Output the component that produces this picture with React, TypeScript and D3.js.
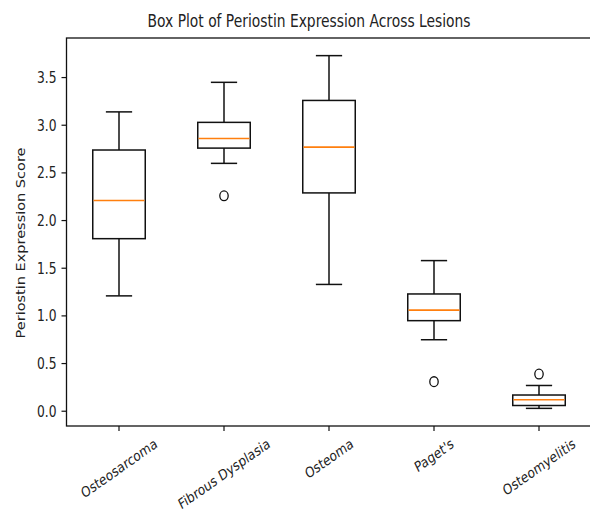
import React, { useRef, useEffect } from "react";
import * as d3 from "d3";

// box plot summary values
const categories = ["Osteosarcoma", "Fibrous Dysplasia", "Osteoma", "Paget's", "Osteomyelitis"];
const whiskerLow = [1.21, 2.6, 1.33, 0.75, 0.03];
const q1 = [1.81, 2.76, 2.29, 0.95, 0.06];
const medians = [2.21, 2.86, 2.77, 1.06, 0.12];
const q3 = [2.74, 3.03, 3.26, 1.23, 0.17];
const whiskerHigh = [3.14, 3.45, 3.73, 1.58, 0.27];
const outliers = [[], [2.26], [], [0.31], [0.39]];
const yTicks = [0, 0.5, 1.0, 1.5, 2.0, 2.5, 3.0, 3.5];

const title = "Box Plot of Periostin Expression Across Lesions";
const yLabel = "Periostin Expression Score";

const width = 590;
const height = 514;
const FONT = "'DejaVu Sans', sans-serif";
const SX = 0.82; // the reference text is squeezed sideways

const App = () => {
  const svgRef = useRef<SVGSVGElement>(null);

  useEffect(() => {
    const svg = d3.select(svgRef.current);
    svg.selectAll("*").remove();

    const left = 66.5, right = 591.5, top = 38, bottom = 426;

    // --- Scales ---
    const x = d3.scaleLinear().domain([0.5, categories.length + 0.5]).range([left, right]);
    const all = [...whiskerLow, ...whiskerHigh, ...outliers.flat()];
    const lo = d3.min(all) as number;
    const hi = d3.max(all) as number;
    const pad = (hi - lo) * 0.05;
    const y = d3.scaleLinear().domain([lo - pad, hi + pad]).range([bottom, top]);

    // --- Boxes ---
    const g = svg.append("g").attr("stroke", "#111").attr("stroke-width", 1.5).attr("fill", "none");
    categories.forEach((c, i) => {
      const cx = x(i + 1);
      const hw = x(i + 1.25) - cx;
      const cw = x(i + 1.125) - cx;
      g.append("rect")
        .attr("x", cx - hw)
        .attr("y", y(q3[i]))
        .attr("width", hw * 2)
        .attr("height", y(q1[i]) - y(q3[i]));
      // whiskers + caps
      g.append("line").attr("x1", cx).attr("x2", cx).attr("y1", y(q1[i])).attr("y2", y(whiskerLow[i]));
      g.append("line").attr("x1", cx).attr("x2", cx).attr("y1", y(q3[i])).attr("y2", y(whiskerHigh[i]));
      g.append("line").attr("x1", cx - cw).attr("x2", cx + cw).attr("y1", y(whiskerLow[i])).attr("y2", y(whiskerLow[i]));
      g.append("line").attr("x1", cx - cw).attr("x2", cx + cw).attr("y1", y(whiskerHigh[i])).attr("y2", y(whiskerHigh[i]));
      g.append("line")
        .attr("x1", cx - hw + 0.75).attr("x2", cx + hw - 0.75)
        .attr("y1", y(medians[i])).attr("y2", y(medians[i]))
        .attr("stroke", "#ff7f0e")
        .attr("stroke-width", 1.6);
      outliers[i].forEach((v) => {
        g.append("ellipse")
          .attr("cx", cx).attr("cy", y(v))
          .attr("rx", 4.2).attr("ry", 4.9)
          .attr("stroke-width", 1.3);
      });
    });

    // --- Frame ---
    svg.append("rect")
      .attr("x", left).attr("y", top)
      .attr("width", right - left).attr("height", bottom - top)
      .attr("fill", "none").attr("stroke", "#111").attr("stroke-width", 1.3);

    // --- Y axis ---
    const ya = svg.append("g").style("font-family", FONT).style("font-size", "15px");
    yTicks.forEach((t) => {
      ya.append("line").attr("x1", left - 5).attr("x2", left).attr("y1", y(t)).attr("y2", y(t)).attr("stroke", "#111").attr("stroke-width", 1.2);
      ya.append("text")
        .attr("transform", `translate(${left - 10},${y(t)}) scale(${SX},1)`)
        .attr("text-anchor", "end")
        .attr("dy", "0.36em")
        .attr("fill", "#222")
        .text(t.toFixed(1));
    });

    // --- X axis ---
    const xa = svg.append("g").style("font-family", FONT).style("font-size", "14.5px");
    categories.forEach((c, i) => {
      const cx = x(i + 1);
      xa.append("line").attr("x1", cx).attr("x2", cx).attr("y1", bottom).attr("y2", bottom + 5).attr("stroke", "#111").attr("stroke-width", 1.2);
      const t = xa.append("text")
        .attr("text-anchor", "middle")
        .attr("dy", "0.36em")
        .attr("fill", "#222")
        .text(c);
      const len = (t.node() as SVGTextElement).getComputedTextLength();
      const h = 14.5 * 0.8;
      const half = (len * Math.sin(Math.PI / 6) + h * Math.cos(Math.PI / 6)) / 2;
      t.attr("transform", `translate(${cx},${bottom + 11 + half}) scale(${SX},1) rotate(-30)`);
    });

    // --- Labels ---
    svg.append("text")
      .attr("transform", `translate(21,243) scale(${SX},1) rotate(-90)`)
      .attr("text-anchor", "middle")
      .attr("dy", "0.36em")
      .attr("fill", "#222")
      .style("font-family", FONT)
      .style("font-size", "14.5px")
      .text(yLabel);

    svg.append("text")
      .attr("transform", `translate(309,27) scale(0.77,1)`)
      .attr("text-anchor", "middle")
      .attr("fill", "#222")
      .style("font-family", FONT)
      .style("font-size", "18px")
      .text(title);
  }, []);

  return (
    <svg
      ref={svgRef}
      width={width}
      height={height}
      style={{ position: "absolute", left: 0, top: 0, background: "#fff" }}
    />
  );
};

export default App;
